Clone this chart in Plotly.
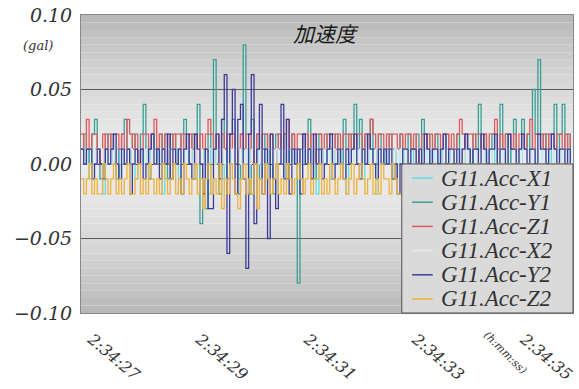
import plotly.graph_objects as go
import pandas as pd

# ---- data (gal), sampled every 0.05 s starting 2:34:26.8 ----
start_time = "2024-01-01 02:34:26.8"
n_points = 182
series_names = ["G11.Acc-X1", "G11.Acc-Y1", "G11.Acc-Z1", "G11.Acc-X2", "G11.Acc-Y2", "G11.Acc-Z2"]

acc_x1 = [0.01, 0.00, 0.01, -0.01, 0.00, 0.01, 0.01, 0.00, -0.02, 0.01, 0.00, 0.01, 0.00, 0.01, -0.01, 0.00, 0.01, 0.01, 0.00, 0.01,
          -0.01, 0.00, 0.01, 0.00, 0.01, -0.01, 0.01, 0.00, 0.01, 0.00, -0.02, 0.01, 0.00, 0.01, 0.01, 0.00, -0.01, 0.01, 0.00, 0.01,
          0.00, 0.01, -0.01, 0.00, 0.01, 0.00, 0.01, -0.02, 0.01, 0.00, 0.01, 0.00, -0.01, 0.01, 0.00, 0.01, 0.00, 0.01, -0.01, 0.00,
          0.01, 0.00, 0.01, -0.02, 0.00, 0.01, 0.00, 0.01, 0.00, -0.01, 0.01, 0.00, 0.01, 0.00, 0.01, -0.01, 0.00, 0.01, 0.00, 0.01,
          0.00, -0.01, 0.01, 0.00, 0.01, 0.00, 0.01, -0.02, 0.00, 0.01, 0.00, 0.01, -0.01, 0.00, 0.01, 0.00, 0.01, 0.00, -0.02, 0.01,
          0.00, 0.01, 0.00, 0.01, -0.01, 0.00, 0.01, 0.00, 0.01, -0.02, 0.00, 0.01, 0.00, 0.01, 0.00, -0.01, 0.01, 0.00, 0.01, 0.00,
          0.01, 0.00, 0.01, 0.00, -0.01, 0.01, 0.00, 0.01, 0.00, 0.01, 0.00, 0.01, 0.00, 0.01, 0.00, 0.01, 0.00, 0.01, 0.00, 0.01,
          0.00, 0.01, 0.01, 0.00, 0.01, 0.00, 0.01, 0.01, 0.00, 0.01, 0.00, 0.00, 0.01, 0.00, 0.01, 0.01, 0.00, 0.01, 0.00, 0.01,
          0.01, 0.00, 0.01, 0.00, 0.00, 0.01, 0.01, 0.00, 0.01, 0.00, 0.01, 0.00, 0.01, 0.01, 0.00, 0.01, 0.00, 0.01, 0.00, 0.01,
          0.00, 0.01]

acc_y1 = [0.01, 0.02, 0.01, 0.00, 0.02, 0.03, 0.01, -0.01, 0.00, 0.02, 0.01, 0.02, 0.00, -0.01, 0.01, 0.02, 0.03, 0.01, 0.00, 0.02,
          0.01, 0.00, 0.02, 0.04, 0.01, -0.01, 0.02, 0.01, 0.00, 0.02, 0.01, 0.02, -0.01, 0.01, 0.02, 0.00, 0.01, 0.02, 0.03, 0.01,
          0.00, 0.02, 0.01, 0.04, -0.04, 0.01, -0.03, 0.02, 0.01, 0.07, 0.00, -0.02, 0.03, 0.01, -0.01, 0.02, 0.03, 0.00, -0.02, 0.02,
          0.08, 0.01, -0.02, 0.03, 0.00, 0.02, -0.01, 0.01, 0.02, 0.00, 0.01, -0.02, 0.02, 0.01, 0.00, 0.02, -0.01, 0.01, 0.02, 0.00,
          -0.08, 0.01, 0.02, 0.00, 0.03, 0.01, -0.01, 0.01, 0.02, 0.00, 0.01, 0.02, 0.01, 0.00, 0.02, 0.01, 0.00, 0.03, 0.01, 0.02,
          0.01, 0.04, 0.01, 0.03, 0.00, 0.02, 0.01, 0.03, 0.01, 0.00, 0.02, 0.01, 0.00, 0.01, 0.02, 0.01, -0.01, 0.01, 0.02, 0.01,
          0.00, 0.02, 0.01, 0.01, 0.02, 0.00, 0.03, 0.01, 0.02, 0.00, 0.01, 0.02, 0.01, 0.00, 0.01, 0.02, 0.01, 0.00, 0.01, 0.02,
          0.01, 0.00, 0.02, 0.01, 0.00, 0.02, 0.01, 0.04, 0.01, 0.02, 0.00, 0.01, 0.02, 0.01, 0.00, 0.04, 0.01, 0.02, 0.00, 0.01,
          0.03, 0.01, 0.00, 0.03, 0.01, 0.02, 0.01, 0.05, 0.02, 0.07, 0.02, 0.01, 0.02, 0.01, 0.02, 0.04, 0.01, 0.02, 0.04, 0.01,
          0.02, 0.01]

acc_z1 = [0.02, 0.01, 0.03, 0.01, 0.02, 0.02, 0.01, 0.00, 0.02, 0.01, 0.02, 0.01, 0.02, 0.02, 0.01, 0.02, 0.01, 0.03, 0.02, 0.01,
          0.02, 0.00, 0.01, 0.02, 0.02, 0.01, 0.02, 0.03, 0.01, 0.02, 0.01, 0.02, 0.00, 0.02, 0.01, 0.02, 0.02, 0.01, 0.02, 0.01,
          0.02, 0.01, 0.02, 0.00, 0.02, 0.01, 0.02, 0.03, 0.02, 0.01, 0.02, 0.00, 0.02, 0.01, 0.02, 0.01, 0.02, 0.00, 0.01, 0.02,
          0.01, 0.02, 0.02, 0.01, 0.00, 0.02, 0.01, 0.02, 0.02, 0.01, 0.02, 0.01, 0.00, 0.02, 0.01, 0.02, 0.03, 0.01, 0.02, 0.01,
          0.02, 0.02, 0.01, 0.02, 0.01, 0.02, 0.00, 0.02, 0.02, 0.01, 0.02, 0.01, 0.02, 0.02, 0.01, 0.02, 0.01, 0.02, 0.02, 0.01,
          0.02, 0.01, 0.02, 0.02, 0.01, 0.02, 0.01, 0.03, 0.02, 0.01, 0.02, 0.02, 0.01, 0.02, 0.01, 0.02, 0.02, 0.01, 0.02, 0.01,
          0.02, 0.02, 0.01, 0.02, 0.00, 0.01, 0.02, 0.02, 0.01, 0.02, 0.01, 0.02, 0.02, 0.01, 0.02, 0.02, 0.01, 0.02, 0.01, 0.02,
          0.03, 0.02, 0.01, 0.02, 0.02, 0.01, 0.02, 0.02, 0.01, 0.02, 0.01, 0.02, 0.02, 0.03, 0.01, 0.02, 0.01, 0.02, 0.02, 0.01,
          0.02, 0.01, 0.02, 0.02, 0.01, 0.02, 0.03, 0.01, 0.02, 0.02, 0.01, 0.02, 0.01, 0.02, 0.02, 0.01, 0.02, 0.02, 0.01, 0.02,
          0.01, 0.02]

acc_x2 = [0.00, 0.01, 0.00, 0.00, 0.01, 0.00, 0.01, 0.01, 0.00, 0.00, 0.01, 0.00, 0.01, 0.00, 0.00, 0.01, 0.01, 0.00, 0.01, 0.00,
          0.01, 0.01, 0.00, 0.00, 0.01, 0.00, 0.01, 0.00, -0.01, 0.01, 0.00, 0.01, 0.01, 0.00, 0.01, 0.00, 0.00, 0.01, 0.00, 0.01,
          0.01, 0.00, 0.01, 0.00, 0.01, -0.01, 0.00, 0.01, 0.01, 0.00, 0.01, 0.00, 0.01, 0.00, 0.00, 0.01, 0.00, 0.01, 0.01, 0.00,
          0.00, 0.01, 0.00, 0.01, 0.01, 0.00, 0.01, 0.00, 0.00, 0.01, 0.01, 0.00, 0.01, 0.00, 0.01, 0.00, 0.01, 0.01, 0.00, 0.00,
          0.01, 0.00, 0.01, 0.01, 0.00, 0.01, 0.00, 0.00, 0.01, 0.00, 0.01, 0.01, 0.00, 0.01, 0.00, 0.01, 0.00, 0.00, 0.01, 0.01,
          0.00, 0.01, 0.00, 0.01, 0.00, 0.01, 0.01, 0.00, 0.00, 0.01, 0.00, 0.01, 0.01, 0.00, 0.01, 0.00, 0.01, 0.00, 0.01, 0.01,
          0.00, 0.01, 0.00, 0.00, 0.01, 0.01, 0.00, 0.01, 0.00, 0.01, 0.00, 0.01, 0.01, 0.00, 0.01, 0.00, 0.00, 0.01, 0.00, 0.01,
          0.01, 0.00, 0.01, 0.00, 0.01, 0.01, 0.00, 0.00, 0.01, 0.00, 0.01, 0.00, 0.01, 0.01, 0.00, 0.01, 0.00, 0.01, 0.00, 0.00,
          0.01, 0.01, 0.00, 0.01, 0.00, 0.01, 0.00, 0.01, 0.01, 0.00, 0.01, 0.00, 0.00, 0.01, 0.01, 0.00, 0.01, 0.00, 0.01, 0.00,
          0.01, 0.00]

acc_y2 = [0.01, 0.00, 0.01, 0.01, -0.01, 0.00, 0.01, 0.00, -0.01, 0.01, 0.00, 0.01, 0.02, 0.00, -0.01, 0.01, 0.00, 0.01, -0.02, 0.00,
          0.01, 0.00, 0.01, -0.01, 0.00, 0.01, 0.02, 0.00, 0.01, -0.01, 0.01, 0.00, 0.02, -0.01, 0.01, 0.00, 0.01, -0.02, 0.01, 0.02,
          0.00, -0.01, 0.02, 0.01, 0.00, -0.02, 0.01, -0.03, -0.03, 0.01, 0.02, -0.01, 0.03, 0.06, -0.06, 0.02, 0.05, -0.02, 0.03, 0.04,
          -0.01, -0.07, 0.02, 0.06, -0.04, 0.01, 0.04, -0.02, 0.01, -0.05, 0.02, -0.01, -0.03, 0.00, 0.04, -0.01, 0.03, -0.02, 0.01, 0.00,
          0.01, -0.02, 0.02, 0.00, 0.01, -0.01, 0.02, 0.00, 0.01, -0.01, 0.00, 0.01, 0.02, -0.01, 0.00, 0.01, 0.00, -0.01, 0.01, 0.00,
          0.01, 0.02, 0.00, -0.01, 0.01, 0.00, 0.02, 0.01, 0.00, -0.01, 0.01, 0.00, 0.01, 0.00, 0.01, -0.01, 0.00, -0.02, 0.00, 0.01,
          0.01, 0.00, 0.01, 0.01, 0.00, 0.01, 0.00, 0.02, 0.01, 0.00, 0.01, 0.01, 0.00, 0.01, 0.02, 0.00, 0.01, 0.01, 0.00, 0.01,
          0.00, 0.01, 0.02, 0.01, 0.00, 0.01, 0.01, 0.00, 0.02, 0.01, 0.00, 0.01, 0.01, 0.02, 0.00, 0.01, 0.01, 0.00, 0.02, 0.01,
          0.01, 0.00, 0.01, 0.02, 0.01, 0.00, 0.01, 0.01, 0.00, 0.02, 0.01, 0.01, 0.00, 0.01, 0.02, 0.01, 0.00, 0.01, 0.01, 0.00,
          0.01, 0.00]

acc_z2 = [-0.01, -0.02, -0.01, 0.00, -0.02, -0.01, -0.02, -0.02, 0.00, -0.01, -0.02, -0.01, 0.00, -0.02, -0.01, -0.02, -0.01, 0.00, -0.02, -0.02,
          -0.01, 0.00, -0.02, -0.01, -0.02, 0.00, -0.01, -0.02, -0.01, -0.02, 0.00, -0.01, -0.02, -0.01, 0.00, -0.02, -0.01, -0.02, 0.00, -0.01,
          -0.02, -0.01, 0.00, -0.02, -0.01, -0.03, -0.01, 0.00, -0.02, -0.01, -0.02, 0.00, -0.03, -0.01, -0.02, 0.00, -0.01, -0.02, -0.03, -0.01,
          0.00, -0.02, -0.01, -0.02, 0.00, -0.03, -0.01, -0.02, 0.00, -0.01, -0.02, -0.01, 0.00, -0.02, -0.01, -0.02, 0.00, -0.01, -0.02, -0.01,
          0.00, -0.01, -0.02, -0.01, 0.00, -0.02, -0.01, -0.01, 0.00, -0.02, -0.01, -0.02, 0.00, -0.01, -0.02, -0.01, 0.00, -0.01, -0.02, -0.01,
          0.00, -0.02, -0.01, 0.00, -0.01, -0.02, -0.01, 0.00, -0.02, -0.01, -0.02, 0.00, -0.01, -0.01, -0.02, 0.00, -0.01, -0.02, -0.02, -0.01,
          0.00, -0.01, -0.02, -0.01, 0.00, -0.01, -0.02, 0.00, -0.01, -0.01, 0.00, -0.01, -0.02, -0.01, 0.00, -0.01, 0.00, -0.01, -0.02, 0.00,
          -0.01, 0.00, -0.01, -0.01, 0.00, -0.02, -0.01, 0.00, -0.01, 0.00, -0.01, -0.01, 0.00, -0.01, 0.00, -0.02, -0.01, 0.00, -0.01, 0.00,
          -0.01, 0.00, -0.01, -0.01, 0.00, -0.01, 0.00, -0.02, -0.01, 0.00, -0.01, 0.00, -0.01, -0.01, 0.00, -0.01, 0.00, -0.01, 0.00, -0.01,
          0.00, -0.01]

y_tick_vals = [-0.10, -0.05, 0.00, 0.05, 0.10]
y_tick_text = ["\u22120.10", "\u22120.05", "0.00", "0.05", "0.10"]

colors = ["#5fdde6", "#3a9f96", "#e2595c", "#e6ecf2", "#3c3c98", "#f0b13a"]

times = pd.date_range(start=start_time, periods=n_points, freq="50ms")
all_series = [acc_x1, acc_y1, acc_z1, acc_x2, acc_y2, acc_z2]

serif = "DejaVu Serif"
legend_font = "Liberation Serif"

fig = go.Figure()
for name, vals, col in zip(series_names, all_series, colors):
    fig.add_trace(go.Scatter(x=times, y=vals, mode="lines", name=name,
                             showlegend=False,
                             line=dict(color=col, width=1.3, shape="hv")))

# background gradient bands
shapes = []
nb = 40
for k in range(nb):
    y0 = k / nb
    y1 = (k + 1) / nb
    d = abs((y0 + y1) / 2 - 0.5) * 2
    g = int(236 - 52 * d ** 1.5)
    shapes.append(dict(type="rect", xref="x domain", yref="y domain",
                       x0=0, x1=1, y0=y0, y1=y1, layer="below", line_width=0,
                       fillcolor=f"rgb({g},{g},{g})"))

# legend box drawn in the lower-right quadrant of the plot area
annotations = []
lg_x0, lg_x1, lg_y0, lg_y1 = 0.652, 1.0, 0.0, 0.5
shapes.append(dict(type="rect", xref="paper", yref="paper", x0=lg_x0, x1=lg_x1,
                   y0=lg_y0, y1=lg_y1, layer="above", fillcolor="#dadada",
                   line=dict(color="#505050", width=1)))
row_h = 0.0812
for i, (name, col) in enumerate(zip(series_names, colors)):
    yc = 0.453 - i * row_h
    shapes.append(dict(type="line", xref="paper", yref="paper", x0=0.673, x1=0.715,
                       y0=yc, y1=yc, layer="above", line=dict(color=col, width=1.5)))
    annotations.append(dict(text=name, xref="paper", yref="paper", x=0.728, y=yc,
                            xanchor="left", yanchor="middle", showarrow=False,
                            font=dict(family=legend_font, size=23, color="#333",
                                      style="italic")))

annotations += [
    dict(text="加速度", xref="paper", yref="paper", x=0.497, y=0.94,
         xanchor="center", yanchor="middle",
         showarrow=False, font=dict(family="Noto Sans CJK JP", size=21,
                                    color="#1a1a1a", style="italic")),
    dict(text="(gal)", xref="paper", yref="paper", x=-0.087, y=0.899,
         xanchor="center", yanchor="middle",
         showarrow=False, font=dict(family=serif, size=13, color="#333",
                                    style="italic")),
    dict(text="(h:mm:ss)", xref="paper", yref="paper", x=0.862, y=-0.131,
         xanchor="center", yanchor="middle",
         showarrow=False, textangle=45,
         font=dict(family=serif, size=11, color="#333", style="italic")),
]

fig.update_layout(
    width=579, height=389,
    margin=dict(l=81, r=6, t=15, b=76, autoexpand=False),
    paper_bgcolor="white",
    plot_bgcolor="rgba(0,0,0,0)",
    shapes=shapes,
    annotations=annotations,
    showlegend=False,
    xaxis=dict(type="date", automargin=False,
               range=["2024-01-01 02:34:26.8", "2024-01-01 02:34:35.9"],
               tick0="2024-01-01 02:34:27", dtick=2000,
               tickformat="%-H:%M:%S", tickangle=40,
               showgrid=False, zeroline=False, ticks="",
               showline=True, linecolor="#888", mirror=True,
               ticklabelstandoff=10,
               tickfont=dict(family=serif, size=16, color="#333", style="italic")),
    yaxis=dict(range=[-0.10, 0.10], tickvals=y_tick_vals, ticktext=y_tick_text,
               automargin=False,
               showgrid=True, gridcolor="#5a5a5a", gridwidth=1,
               zeroline=True, zerolinecolor="#3a3a3a", zerolinewidth=1,
               showline=True, linecolor="#888", mirror=True, ticks="",
               ticklabelstandoff=4,
               tickfont=dict(family=serif, size=19, color="#333", style="italic")),
)

fig.write_html("out.html")
